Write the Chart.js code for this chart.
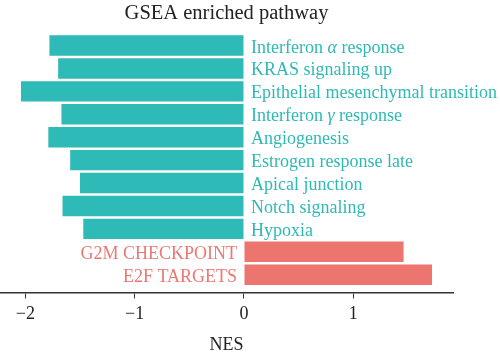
<!DOCTYPE html>
<html>
<head>
<meta charset="utf-8">
<script src="https://cdn.jsdelivr.net/npm/chart.js@4/dist/chart.umd.min.js"></script>
<style>
html,body{margin:0;padding:0;background:#fff;}
#wrap{width:500px;height:359px;position:relative;}
</style>
</head>
<body>
<div id="wrap"><canvas id="c" width="500" height="359"></canvas></div>
<script>
const pathways = [
  "Interferon α response",
  "KRAS signaling up",
  "Epithelial mesenchymal transition",
  "Interferon γ response",
  "Angiogenesis",
  "Estrogen response late",
  "Apical junction",
  "Notch signaling",
  "Hypoxia",
  "G2M CHECKPOINT",
  "E2F TARGETS"
];
const nesValues = [-1.78, -1.70, -2.04, -1.67, -1.79, -1.59, -1.50, -1.66, -1.47, 1.46, 1.72];
const xTickValues = [-2, -1, 0, 1];

const TEAL = '#2EBAB7';
const RED = '#EC7570';
const TEAL_TXT = '#2FB9B5';
const RED_TXT = '#EC7873';
const FONT = '"Liberation Serif", "DejaVu Serif", serif';

const points = nesValues.map((v, i) => ({x: v, y: i}));

const labelPlugin = {
  id: 'barLabels',
  afterDatasetsDraw(chart) {
    const ctx = chart.ctx;
    const xs = chart.scales.x, ys = chart.scales.y;
    const x0 = xs.getPixelForValue(0);
    ctx.save();
    ctx.textBaseline = 'alphabetic';
    pathways.forEach((name, i) => {
      const v = nesValues[i];
      const y = ys.getPixelForValue(i) + 7;
      const parts = name.split(/([αγ])/).filter(s => s.length);
      const fonts = parts.map(p => (/^[αγ]$/.test(p) ? 'italic ' : '') + '18px ' + FONT);
      const widths = parts.map((p, k) => { ctx.font = fonts[k]; return ctx.measureText(p).width; });
      const total = widths.reduce((a, b) => a + b, 0);
      let x = v < 0 ? x0 + 7 : x0 - 7 - total;
      ctx.fillStyle = v < 0 ? TEAL_TXT : RED_TXT;
      ctx.textAlign = 'left';
      parts.forEach((p, k) => {
        ctx.font = fonts[k];
        ctx.fillText(p, x, y);
        x += widths[k];
      });
    });
    ctx.restore();
  }
};

new Chart(document.getElementById('c'), {
  type: 'bar',
  data: {
    datasets: [{
      data: points,
      backgroundColor: nesValues.map(v => v < 0 ? TEAL : RED),
      borderWidth: 0,
      barPercentage: 0.89,
      categoryPercentage: 1.0
    }]
  },
  options: {
    indexAxis: 'y',
    responsive: false,
    animation: false,
    devicePixelRatio: 1,
    layout: {padding: {left: 0, right: 47, top: 0, bottom: 0}},
    plugins: {
      legend: {display: false},
      tooltip: {enabled: false},
      title: {
        display: true,
        text: 'GSEA enriched pathway',
        color: '#222',
        font: {family: FONT, size: 20.5, weight: 'normal', lineHeight: 1.2},
        padding: {top: 1, bottom: 8.4}
      }
    },
    scales: {
      y: {
        type: 'linear',
        reverse: true,
        offset: false,
        grace: 0,
        min: -0.503,
        max: 10.775,
        display: false,
        afterBuildTicks: s => { s.ticks = pathways.map((_, i) => ({value: i})); }
      },
      x: {
        type: 'linear',
        min: -2.232,
        max: 1.912,
        afterBuildTicks: s => { s.ticks = xTickValues.map(v => ({value: v})); },
        border: {display: true, color: '#333', width: 1.5},
        grid: {drawOnChartArea: false, drawTicks: true, tickLength: 6, color: '#333', lineWidth: 1},
        ticks: {
          color: '#222',
          padding: 5,
          maxRotation: 0,
          font: {family: FONT, size: 18, lineHeight: 1.2},
          callback: v => v < 0 ? '\u2212' + Math.abs(v) : String(v)
        },
        title: {
          display: true,
          text: 'NES',
          color: '#222',
          font: {family: FONT, size: 18, lineHeight: 1.2},
          padding: {top: 4, bottom: 3.3}
        }
      }
    }
  },
  plugins: [labelPlugin]
});
</script>
</body>
</html>
